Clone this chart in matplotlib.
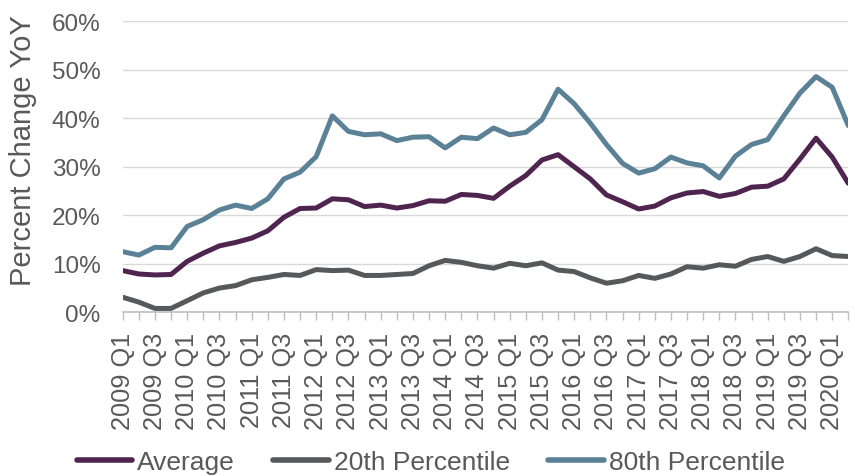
import matplotlib
matplotlib.use("Agg")
import matplotlib.pyplot as plt
from matplotlib.ticker import FixedLocator, FuncFormatter

plt.rcParams['font.family'] = ['Liberation Sans', 'DejaVu Sans']

# Quarterly periods, 2009 Q1 through 2020 Q2
quarters = [f"{y} Q{q}" for y in range(2009, 2021) for q in range(1, 5)][:46]

average = [8.6, 7.9, 7.7, 7.8, 10.5, 12.2, 13.7, 14.4, 15.3, 16.8,
           19.6, 21.4, 21.5, 23.4, 23.2, 21.8, 22.1, 21.5, 22.0, 23.0,
           22.9, 24.3, 24.1, 23.5, 26.0, 28.2, 31.4, 32.5, 30.0, 27.5,
           24.2, 22.8, 21.3, 21.9, 23.6, 24.6, 24.9, 23.9, 24.5, 25.8,
           26.0, 27.5, 31.6, 35.9, 32.0, 26.6]

pct20 = [3.1, 2.1, 0.8, 0.8, 2.4, 4.0, 5.0, 5.5, 6.7, 7.2,
         7.8, 7.6, 8.8, 8.6, 8.7, 7.6, 7.6, 7.8, 8.0, 9.6,
         10.7, 10.3, 9.6, 9.1, 10.1, 9.6, 10.2, 8.7, 8.4, 7.1,
         6.0, 6.5, 7.6, 7.0, 7.9, 9.4, 9.1, 9.8, 9.5, 10.9,
         11.5, 10.5, 11.5, 13.1, 11.7, 11.5]

pct80 = [12.5, 11.8, 13.4, 13.3, 17.7, 19.1, 21.1, 22.1, 21.4, 23.4,
         27.5, 28.9, 32.1, 40.5, 37.3, 36.6, 36.8, 35.4, 36.1, 36.2,
         33.9, 36.1, 35.8, 38.0, 36.6, 37.1, 39.7, 46.0, 43.0, 39.0,
         34.6, 30.7, 28.7, 29.6, 32.0, 30.8, 30.2, 27.7, 32.2, 34.6,
         35.6, 40.5, 45.2, 48.6, 46.4, 38.5]

series_names = ["Average", "20th Percentile", "80th Percentile"]
colors = ["#4F2550", "#55595C", "#5A8196"]
text_color = "#595959"

fig = plt.figure(figsize=(8.55, 4.77), dpi=100)
ax = fig.add_axes([122.7 / 855, 1 - 313.3 / 477, (848.3 - 122.7) / 855, (313.3 - 22.3) / 477])

x = list(range(len(quarters)))
for vals, name, c in zip([average, pct20, pct80], series_names, colors):
    ax.plot(x, vals, color=c, lw=3.6, label=name,
            solid_joinstyle='round', solid_capstyle='round', zorder=3)

ax.set_xlim(0, len(quarters) - 1)
ax.set_ylim(0, 60)
ax.set_yticks(range(0, 61, 10))
ax.yaxis.set_major_formatter(FuncFormatter(lambda v, p: f"{int(v)}%"))
ax.grid(axis='y', color='#D9D9D9', lw=1.0, zorder=0)
ax.set_axisbelow(True)

major = x[::2]
ax.xaxis.set_major_locator(FixedLocator(major))
ax.xaxis.set_minor_locator(FixedLocator(x))
ax.set_xticklabels([quarters[i] for i in major], rotation=90, ha='center', va='top')

for s in ['top', 'right', 'left']:
    ax.spines[s].set_visible(False)
ax.spines['bottom'].set_color('#BFBFBF')
ax.spines['bottom'].set_linewidth(1.2)

ax.tick_params(axis='x', which='both', length=6, width=1, color='#BFBFBF',
               labelsize=18.3, labelcolor=text_color, pad=8)
ax.tick_params(axis='y', length=0, labelsize=17.5, labelcolor=text_color, pad=16)

fig.text(23 / 855, 1 - 151 / 477, "Percent Change YoY", rotation=90,
         ha='center', va='center', fontsize=21, color=text_color)

leg = fig.legend(loc='center', bbox_to_anchor=(0.504, 1 - 463 / 477), ncol=3,
                 frameon=False, fontsize=19, handlelength=2.1, handletextpad=0.2,
                 columnspacing=1.45)
for t in leg.get_texts():
    t.set_color(text_color)
for h in leg.legend_handles:
    h.set_linewidth(4)

fig.savefig("out.png", dpi=100)
